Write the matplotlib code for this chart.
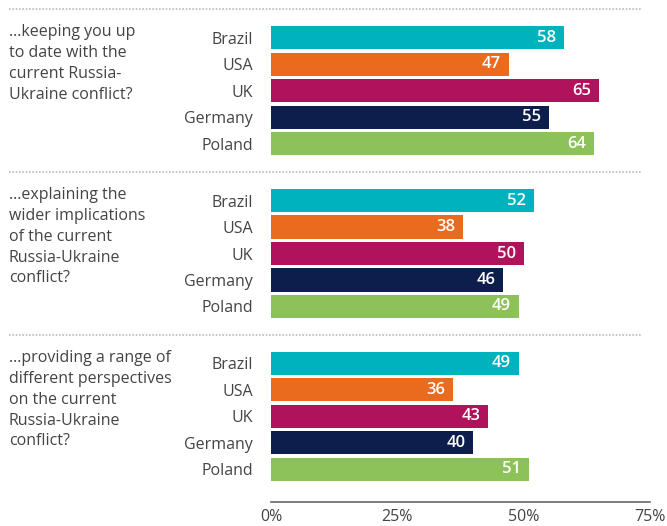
import numpy as np
import matplotlib
matplotlib.use("Agg")
import matplotlib.pyplot as plt
from matplotlib.transforms import blended_transform_factory

# data
questions = [
    "...keeping you up\nto date with the\ncurrent Russia-\nUkraine conflict?",
    "...explaining the\nwider implications\nof the current\nRussia-Ukraine\nconflict?",
    "...providing a range of\ndifferent perspectives\non the current\nRussia-Ukraine\nconflict?",
]
countries = ["Brazil", "USA", "UK", "Germany", "Poland"]
keeping_up = [58, 47, 65, 55, 64]
implications = [52, 38, 50, 46, 49]
perspectives = [49, 36, 43, 40, 51]
values = [keeping_up, implications, perspectives]
colors = ["#00B2BE", "#EA6A1E", "#B0125B", "#0E1E4C", "#8DC15A"]
x_ticks = [0, 25, 50, 75]
x_ticklabels = ["0%", "25%", "50%", "75%"]

plt.rcParams["font.family"] = ["Open Sans", "DejaVu Sans"]
text_col = "#444444"

W, H = 667, 526
fig = plt.figure(figsize=(W / 100, H / 100), dpi=100)
ax = fig.add_axes([271 / W, 1 - 502 / H, (650 - 271) / W, (502 - 9) / H])

group_step = 6.15
ypos, labels = [], []
for g, vals in enumerate(values):
    y = g * group_step + np.arange(len(countries))
    ax.barh(y, vals, height=0.87, color=colors, zorder=2)
    for yy, v in zip(y, vals):
        ax.annotate(str(v), (v, yy), xytext=(-8, 0), textcoords="offset pixels",
                    ha="right", va="center", color="white", fontsize=12,
                    fontweight="semibold")
    ypos.extend(y)
    labels.extend(countries)

ax.set_xlim(0, 75)
ax.set_ylim(2 * group_step + 4 + 1.23, -1.08)
ax.set_yticks(ypos, labels)
ax.set_xticks(x_ticks, x_ticklabels)
ax.tick_params(axis="y", length=0, pad=13, labelsize=11.5, labelcolor=text_col)
ax.tick_params(axis="x", length=0, pad=5, labelsize=11.5, labelcolor=text_col)
for s in ["top", "right", "left"]:
    ax.spines[s].set_visible(False)
ax.spines["bottom"].set_color("#666666")
ax.spines["bottom"].set_linewidth(1.2)

# dotted separators between question groups, question text on the left
tr = blended_transform_factory(fig.transFigure, ax.transData)
sep_y = [-1.08, 4 + (group_step - 4) / 2, group_step + 4 + (group_step - 4) / 2]
for sy in sep_y:
    ax.plot([9 / W, 641 / W], [sy, sy], transform=tr, clip_on=False,
            color="#bbbbbb", linestyle=(0, (1, 1)), linewidth=1.2)
for g, q in enumerate(questions):
    ax.text(9 / W, g * group_step - 0.5, q, transform=tr, ha="left", va="top",
            fontsize=11.5, color=text_col, linespacing=1.4)

fig.savefig("out.png", dpi=100)
